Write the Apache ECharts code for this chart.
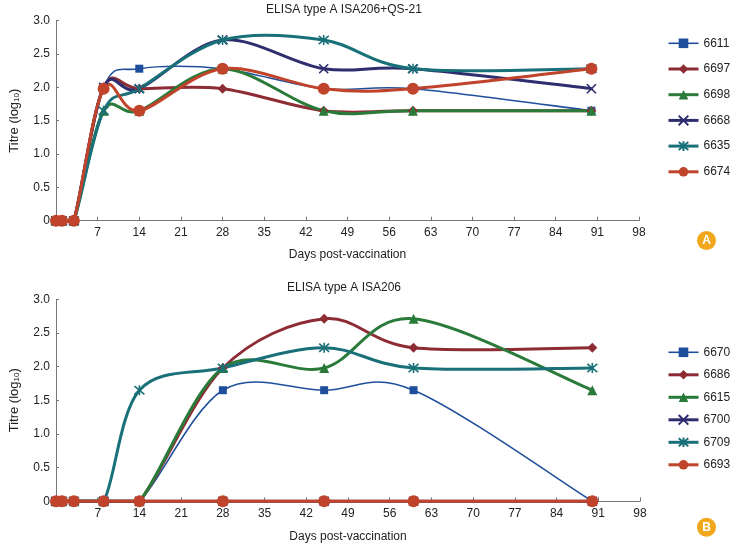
<!DOCTYPE html>
<html><head><meta charset="utf-8">
<script src="https://cdn.jsdelivr.net/npm/echarts@6/dist/echarts.min.js"></script>
<style>html,body{margin:0;padding:0;background:#fff}#c{width:730px;height:544px}</style>
</head><body><div id="c"></div>
<script>
const days = [0, 1, 3, 8, 14, 28, 45, 60, 90];
const xTicks = [7, 14, 21, 28, 35, 42, 49, 56, 63, 70, 77, 84, 91, 98];
const yTicks = [0, 0.5, 1.0, 1.5, 2.0, 2.5, 3.0];

const titleA = 'ELISA type A ISA206+QS-21';
const titleB = 'ELISA type A ISA206';
const namesA = ['6611', '6697', '6698', '6668', '6635', '6674'];
const namesB = ['6670', '6686', '6615', '6700', '6709', '6693'];

const a6611 = [0, 0, 0, 2.0, 2.28, 2.28, 1.98, 1.98, 1.65];
const a6697 = [0, 0, 0, 2.0, 1.98, 1.98, 1.65, 1.65, 1.65];
const a6698 = [0, 0, 0, 1.65, 1.65, 2.28, 1.65, 1.65, 1.65];
const a6668 = [0, 0, 0, 2.0, 1.98, 2.71, 2.28, 2.28, 1.98];
const a6635 = [0, 0, 0, 1.65, 1.98, 2.71, 2.71, 2.28, 2.28];
const a6674 = [0, 0, 0, 1.98, 1.65, 2.28, 1.98, 1.98, 2.28];

const b6670 = [0, 0, 0, 0, 0, 1.65, 1.65, 1.65, 0];
const b6686 = [0, 0, 0, 0, 0, 1.98, 2.71, 2.28, 2.28];
const b6615 = [0, 0, 0, 0, 0, 1.98, 1.98, 2.71, 1.65];
const b6700 = [0, 0, 0, 0, 0, 0, 0, 0, 0];
const b6709 = [0, 0, 0, 0, 1.65, 1.98, 2.28, 1.98, 1.98];
const b6693 = [0, 0, 0, 0, 0, 0, 0, 0, 0];

const valsA = [a6611, a6697, a6698, a6668, a6635, a6674];
const valsB = [b6670, b6686, b6615, b6700, b6709, b6693];

const FONT = '"Liberation Sans", Arial, sans-serif';
const TXT = '#222';
const styles = [
  {color: '#1F4F9C', symbol: 'rect', size: 8, width: 1.6, stroke: false},
  {color: '#8E2C35', symbol: 'diamond', size: 10, width: 3, stroke: false},
  {color: '#2A7B3A', symbol: 'triangle', size: 10, width: 3, stroke: false},
  {color: '#2E2D6E', symbol: 'path://M0,0L10,10M10,0L0,10', size: 9, width: 3, stroke: true},
  {color: '#1A7079', symbol: 'path://M0,0L10,10M10,0L0,10M5,-1L5,11', size: 10, width: 3, stroke: true},
  {color: '#C0432B', symbol: 'circle', size: 12, width: 3, stroke: false}
];

// Excel-like smoothed curve (Catmull-Rom bezier) drawn through the axis scales
function curveSeries(vals, idx, s) {
  return {
    type: 'custom', xAxisIndex: idx, yAxisIndex: idx, silent: true, z: 2,
    data: days.map((d, j) => [d, vals[j]]),
    renderItem: (params, api) => {
      if (params.dataIndex !== 0) return null;
      const pts = days.map((d, j) => api.coord([d, vals[j]]));
      const floorY = api.coord([0, 0])[1];
      const n = pts.length, children = [];
      for (let i = 0; i < n - 1; i++) {
        const p0 = pts[Math.max(i - 1, 0)], p1 = pts[i], p2 = pts[i + 1], p3 = pts[Math.min(i + 2, n - 1)];
        const cpx1 = p1[0] + (p2[0] - p0[0]) / 6;
        const cpy1 = Math.min(p1[1] + (p2[1] - p0[1]) / 6, floorY);
        const cpx2 = p2[0] - (p3[0] - p1[0]) / 6;
        const cpy2 = Math.min(p2[1] - (p3[1] - p1[1]) / 6, floorY);
        children.push({
          type: 'bezierCurve',
          shape: {x1: p1[0], y1: p1[1], x2: p2[0], y2: p2[1], cpx1: cpx1, cpy1: cpy1, cpx2: cpx2, cpy2: cpy2},
          style: {stroke: s.color, lineWidth: s.width, fill: 'none', lineCap: 'round', lineJoin: 'round'}
        });
      }
      return {type: 'group', children: children};
    },
    animation: false
  };
}

function mkSeries(names, vals, idx) {
  const out = [];
  names.forEach((n, i) => {
    const s = styles[i];
    out.push(curveSeries(vals[i], idx, s));
    out.push({
      name: n, type: 'line', xAxisIndex: idx, yAxisIndex: idx, z: 3,
      data: days.map((d, j) => [d, vals[i][j]]),
      symbol: s.symbol, symbolSize: s.size, showSymbol: true,
      lineStyle: {color: s.color, width: s.width, opacity: 0},
      itemStyle: s.stroke ? {color: s.color, borderColor: s.color, borderWidth: 1.6} : {color: s.color, borderWidth: 0},
      emphasis: {disabled: true},
      animation: false
    });
  });
  return out;
}

function xAx(idx) {
  return {
    type: 'value', gridIndex: idx, min: 0, max: 98, interval: 7,
    name: 'Days post-vaccination', nameLocation: 'middle', nameGap: idx === 0 ? 28 : 29,
    nameTextStyle: {fontFamily: FONT, fontSize: 12, color: TXT},
    axisLine: {lineStyle: {color: '#777', width: 1}},
    axisTick: {inside: true, length: 4, lineStyle: {color: '#777'}},
    axisLabel: {fontFamily: FONT, fontSize: 12, color: TXT, margin: 6,
      formatter: v => xTicks.indexOf(v) >= 0 ? String(v) : ''},
    splitLine: {show: false}
  };
}
function yAx(idx) {
  return {
    type: 'value', gridIndex: idx, min: 0, max: 3, interval: 0.5,
    name: 'Titre (log{s|10})', nameLocation: 'middle', nameGap: 35, nameRotate: 90,
    nameTextStyle: {fontFamily: FONT, fontSize: 13, color: TXT, rich: {s: {fontFamily: FONT, fontSize: 8, color: TXT, padding: [5, 0, 0, 0]}}},
    axisLine: {show: true, lineStyle: {color: '#777', width: 1}},
    axisTick: {show: true, inside: true, length: 3, lineStyle: {color: '#777'}},
    axisLabel: {fontFamily: FONT, fontSize: 12, color: TXT, margin: 6,
      formatter: v => yTicks.indexOf(v) < 0 ? '' : (v === 0 ? '0' : v.toFixed(1))},
    splitLine: {show: false}
  };
}
function legend(names, top, gap) {
  return {
    data: names.map((n, i) => ({name: n, lineStyle: {opacity: 1, width: styles[i].width, color: styles[i].color}})),
    orient: 'vertical', left: 667, top: top, padding: 0,
    itemWidth: 30, itemHeight: 12, itemGap: gap,
    lineStyle: {opacity: 1},
    textStyle: {fontFamily: FONT, fontSize: 12, color: TXT, lineHeight: 13},
    selectedMode: false
  };
}

const chart = echarts.init(document.getElementById('c'), null, {renderer: 'canvas'});
chart.setOption({
  animation: false,
  title: [
    {text: titleA, left: 344, top: 4, padding: 0, textAlign: 'center', textStyle: {fontFamily: FONT, fontSize: 12, fontWeight: 'normal', color: TXT}},
    {text: titleB, left: 344, top: 282, padding: 0, textAlign: 'center', textStyle: {fontFamily: FONT, fontSize: 12, fontWeight: 'normal', color: TXT}}
  ],
  grid: [
    {left: 50, right: 91, top: 20.7, height: 200},
    {left: 50, right: 90, top: 299.3, height: 202}
  ],
  xAxis: [xAx(0), xAx(1)],
  yAxis: [yAx(0), yAx(1)],
  legend: [legend(namesA, 36.8, 12.7), legend(namesB, 345.8, 9.5)],
  series: mkSeries(namesA, valsA, 0).concat(mkSeries(namesB, valsB, 1)),
  graphic: [
    {type: 'circle', shape: {cx: 706.5, cy: 240.5, r: 9.5}, style: {fill: '#F2A81D'}},
    {type: 'text', x: 706.5, y: 241, style: {text: 'A', fill: '#fff', font: 'bold 12px "Liberation Sans", sans-serif', align: 'center', verticalAlign: 'middle'}},
    {type: 'circle', shape: {cx: 706.5, cy: 527.3, r: 9.5}, style: {fill: '#F2A81D'}},
    {type: 'text', x: 706.5, y: 527.8, style: {text: 'B', fill: '#fff', font: 'bold 12px "Liberation Sans", sans-serif', align: 'center', verticalAlign: 'middle'}}
  ]
});
</script></body></html>
